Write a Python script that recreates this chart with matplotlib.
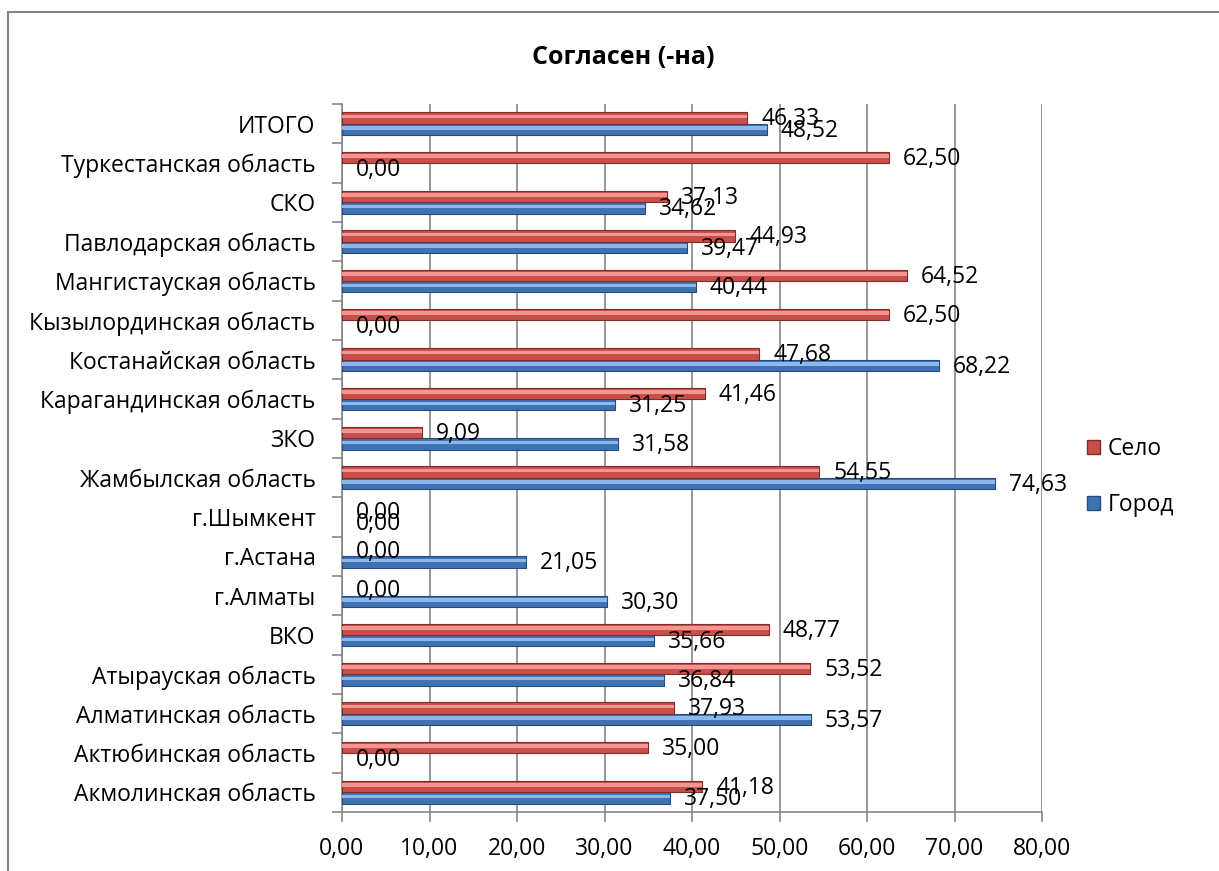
import matplotlib
matplotlib.use("Agg")
import matplotlib.pyplot as plt
from matplotlib.patches import Rectangle
from matplotlib.ticker import FuncFormatter, FixedLocator
import numpy as np

plt.rcParams['font.family'] = ['Open Sans', 'DejaVu Sans']

# categories, top to bottom as in the chart
regions = ["ИТОГО", "Туркестанская область", "СКО", "Павлодарская область",
           "Мангистауская область", "Кызылординская область", "Костанайская область",
           "Карагандинская область", "ЗКО", "Жамбылская область", "г.Шымкент",
           "г.Астана", "г.Алматы", "ВКО", "Атырауская область",
           "Алматинская область", "Актюбинская область", "Акмолинская область"]
selo = [46.33, 62.50, 37.13, 44.93, 64.52, 62.50, 47.68, 41.46, 9.09, 54.55,
        0.00, 0.00, 0.00, 48.77, 53.52, 37.93, 35.00, 41.18]
gorod = [48.52, 0.00, 34.62, 39.47, 40.44, 0.00, 68.22, 31.25, 31.58, 74.63,
         0.00, 21.05, 30.30, 35.66, 36.84, 53.57, 0.00, 37.50]
x_ticks = [0, 10, 20, 30, 40, 50, 60, 70, 80]

FS = 16.5

fig = plt.figure(figsize=(12.19, 8.71), dpi=100)
# outer chart border (only top and left visible in the reference)
fig.patches.append(Rectangle((8 / 1219, -0.05), 1.2, 1 - 12 / 871 + 0.05,
                             transform=fig.transFigure, fill=False,
                             edgecolor='#868686', linewidth=1.5))

ax = fig.add_axes([342 / 1219, 1 - 812 / 871, 700 / 1219, 708 / 871])

n = len(regions)
ypos = np.arange(n)[::-1]
h = 0.29

def draw(vals, offs, base, light, dark):
    y = ypos + offs
    lw = [0.8 if v > 0 else 0 for v in vals]
    ax.barh(y, vals, height=h, color=base, edgecolor=dark, linewidth=lw, zorder=3)
    ax.barh(y + h * 0.12, vals, height=h * 0.32, color=light, linewidth=0, zorder=4)
    for v, yy in zip(vals, y):
        ax.annotate(f"{v:.2f}".replace('.', ','), (v, yy), xytext=(10, -1),
                    textcoords='offset points', ha='left', va='center',
                    fontsize=FS, color='black', zorder=6)

draw(gorod, -h / 2, '#3F72B3', '#8CB8EC', '#274B7A')
draw(selo, h / 2, '#C94F4B', '#F49592', '#7E2C2A')

ax.set_xlim(0, 80)
ax.set_ylim(-0.5, n - 0.5)
ax.xaxis.set_major_locator(FixedLocator(x_ticks))
ax.xaxis.set_major_formatter(FuncFormatter(lambda v, p: f"{v:.2f}".replace('.', ',')))
ax.set_yticks(ypos)
ax.set_yticklabels(regions)
ax.yaxis.set_minor_locator(FixedLocator(np.arange(n + 1) - 0.5))
ax.tick_params(axis='y', which='major', length=0, pad=19, labelsize=FS)
ax.tick_params(axis='y', which='minor', length=7, color='#868686', width=1.2)
ax.tick_params(axis='x', length=7, color='#868686', width=1.2, labelsize=FS, pad=11)
ax.grid(axis='x', color='#868686', linewidth=1.2, zorder=0)
ax.set_axisbelow(True)
for s in ['top', 'right']:
    ax.spines[s].set_visible(False)
for s in ['left', 'bottom']:
    ax.spines[s].set_color('#868686')
    ax.spines[s].set_linewidth(1.2)

fig.text(623 / 1219, 1 - 57 / 871, "Согласен (-на)", ha='center', va='center',
         fontsize=18, fontweight='bold')

handles = [Rectangle((0, 0), 1, 1, facecolor='#C94F4B', edgecolor='#7E2C2A'),
           Rectangle((0, 0), 1, 1, facecolor='#3F72B3', edgecolor='#274B7A')]
fig.legend(handles, ["Село", "Город"], loc='center left',
           bbox_to_anchor=(1066 / 1219, 1 - 477 / 871), frameon=False,
           fontsize=FS, handlelength=0.6, handleheight=0.6,
           handletextpad=0.3, labelspacing=1.4)

fig.savefig("out.png", dpi=100)
